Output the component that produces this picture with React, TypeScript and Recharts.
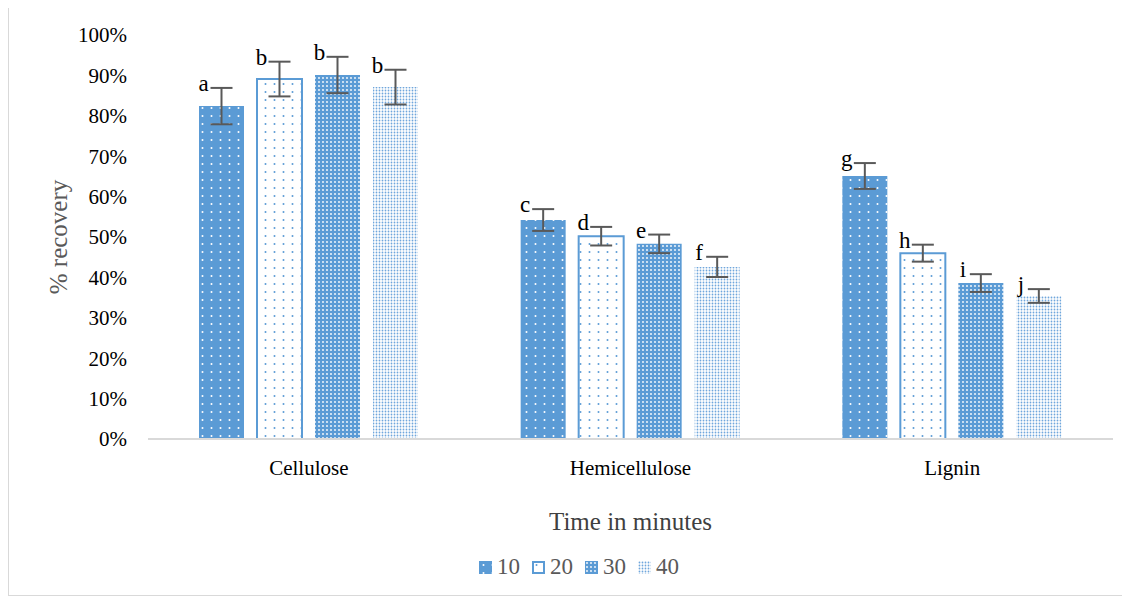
import { BarChart, Bar, XAxis, YAxis, ErrorBar, LabelList, Legend } from 'recharts';

const categories = ['Cellulose', 'Hemicellulose', 'Lignin'];
const series = ['10', '20', '30', '40'];
const values10 = [82.4, 54.2, 65.1];
const values20 = [89.1, 50.2, 46.0];
const values30 = [90.1, 48.3, 38.6];
const values40 = [87.1, 42.6, 35.4];
const errors10 = [4.5, 2.7, 3.2];
const errors20 = [4.3, 2.3, 2.1];
const errors30 = [4.5, 2.3, 2.2];
const errors40 = [4.3, 2.5, 1.7];
const letters10 = ['a', 'c', 'g'];
const letters20 = ['b', 'd', 'h'];
const letters30 = ['b', 'e', 'i'];
const letters40 = ['b', 'f', 'j'];
const yTicks = [0, 10, 20, 30, 40, 50, 60, 70, 80, 90, 100];

const valueSets = [values10, values20, values30, values40];
const errorSets = [errors10, errors20, errors30, errors40];
const letterSets = [letters10, letters20, letters30, letters40];

const chartData = categories.map((name, i) => {
  const row: any = { name };
  series.forEach((s, k) => {
    row['v' + s] = valueSets[k][i];
    row['e' + s] = errorSets[k][i];
    row['l' + s] = letterSets[k][i];
  });
  return row;
});

const FONT = '"Liberation Serif", "Times New Roman", serif';
const BLUE = '#5B9BD5';

const Patterns = () => (
  <defs>
    <pattern id="p10" width="9" height="8" patternUnits="userSpaceOnUse">
      <rect width="9" height="8" fill={BLUE} />
      <circle cx="4.5" cy="4" r="1" fill="#fff" />
    </pattern>
    <pattern id="p20" width="9" height="8" patternUnits="userSpaceOnUse">
      <rect width="9" height="8" fill="#fff" />
      <circle cx="4.5" cy="4" r="1" fill={BLUE} />
    </pattern>
    <pattern id="p30" width="4" height="4" patternUnits="userSpaceOnUse">
      <rect width="4" height="4" fill={BLUE} />
      <circle cx="2" cy="2" r="0.9" fill="#fff" />
    </pattern>
    <pattern id="p40" width="3" height="3" patternUnits="userSpaceOnUse">
      <rect width="3" height="3" fill="#fff" />
      <circle cx="1.5" cy="1.5" r="0.9" fill="#6fa6dc" />
    </pattern>
  </defs>
);

const makeLetter = (s: string) => (props: any) => {
  const { x, y, width, index } = props;
  const row = chartData[index];
  const pxPerUnit = 404 / 100;
  const top = y - row['e' + s] * pxPerUnit;
  return (
    <text x={x + width / 2 - 18} y={top + 3} textAnchor="middle" fontFamily={FONT} fontSize={23} fill="#000">
      {row['l' + s]}
    </text>
  );
};

const LegendContent = () => (
  <div style={{ display: 'flex', justifyContent: 'center', alignItems: 'center', fontFamily: FONT, fontSize: 23, color: '#595959', paddingLeft: 48 }}>
    {series.map((s) => (
      <span key={s} style={{ display: 'flex', alignItems: 'center', marginRight: 12 }}>
        <svg width={13} height={13} style={{ marginRight: 5 }}>
          <rect x={s === '20' ? 1 : 0} y={s === '20' ? 1 : 0} width={s === '20' ? 11 : 13} height={s === '20' ? 11 : 13}
            fill={`url(#p${s})`} stroke={s === '20' ? BLUE : 'none'} strokeWidth={2} />
        </svg>
        {s}
      </span>
    ))}
  </div>
);

export default function App() {
  return (
    <div style={{ width: 1121, height: 589, border: '1px solid #d9d9d9', boxSizing: 'border-box', marginTop: -1, background: '#fff' }}>
      <BarChart width={1119} height={587} data={chartData} barCategoryGap={51} barGap={13}
        margin={{ top: 27, right: 15, left: 0, bottom: 15 }}>
        <Patterns />
        <XAxis dataKey="name" axisLine={{ stroke: '#d9d9d9', strokeWidth: 2 }} tickLine={false} height={115}
          tickMargin={15} tick={{ fontFamily: FONT, fontSize: 21, fill: '#000' }}
          label={{ value: 'Time in minutes', position: 'insideBottom', offset: 24, fontFamily: FONT, fontSize: 25, fill: '#404040' }} />
        <YAxis domain={[0, 100]} ticks={yTicks} axisLine={false} tickLine={false} width={139} tickMargin={15}
          tickFormatter={(v) => `${v}%`} tick={{ fontFamily: FONT, fontSize: 21, fill: '#000' }}
          label={{ value: '% recovery', angle: -90, position: 'insideLeft', offset: 49, fontFamily: FONT, fontSize: 25, fill: '#595959', style: { textAnchor: 'middle' } }} />
        <Legend verticalAlign="bottom" content={<LegendContent />} />
        {series.map((s) => (
          <Bar key={s} dataKey={'v' + s} name={s} fill={`url(#p${s})`} stroke={s === '20' ? BLUE : 'none'} strokeWidth={2}
            isAnimationActive={false}>
            <ErrorBar dataKey={'e' + s} width={11} strokeWidth={2} stroke="#595959" />
            <LabelList dataKey={'l' + s} content={makeLetter(s)} />
          </Bar>
        ))}
      </BarChart>
    </div>
  );
}
